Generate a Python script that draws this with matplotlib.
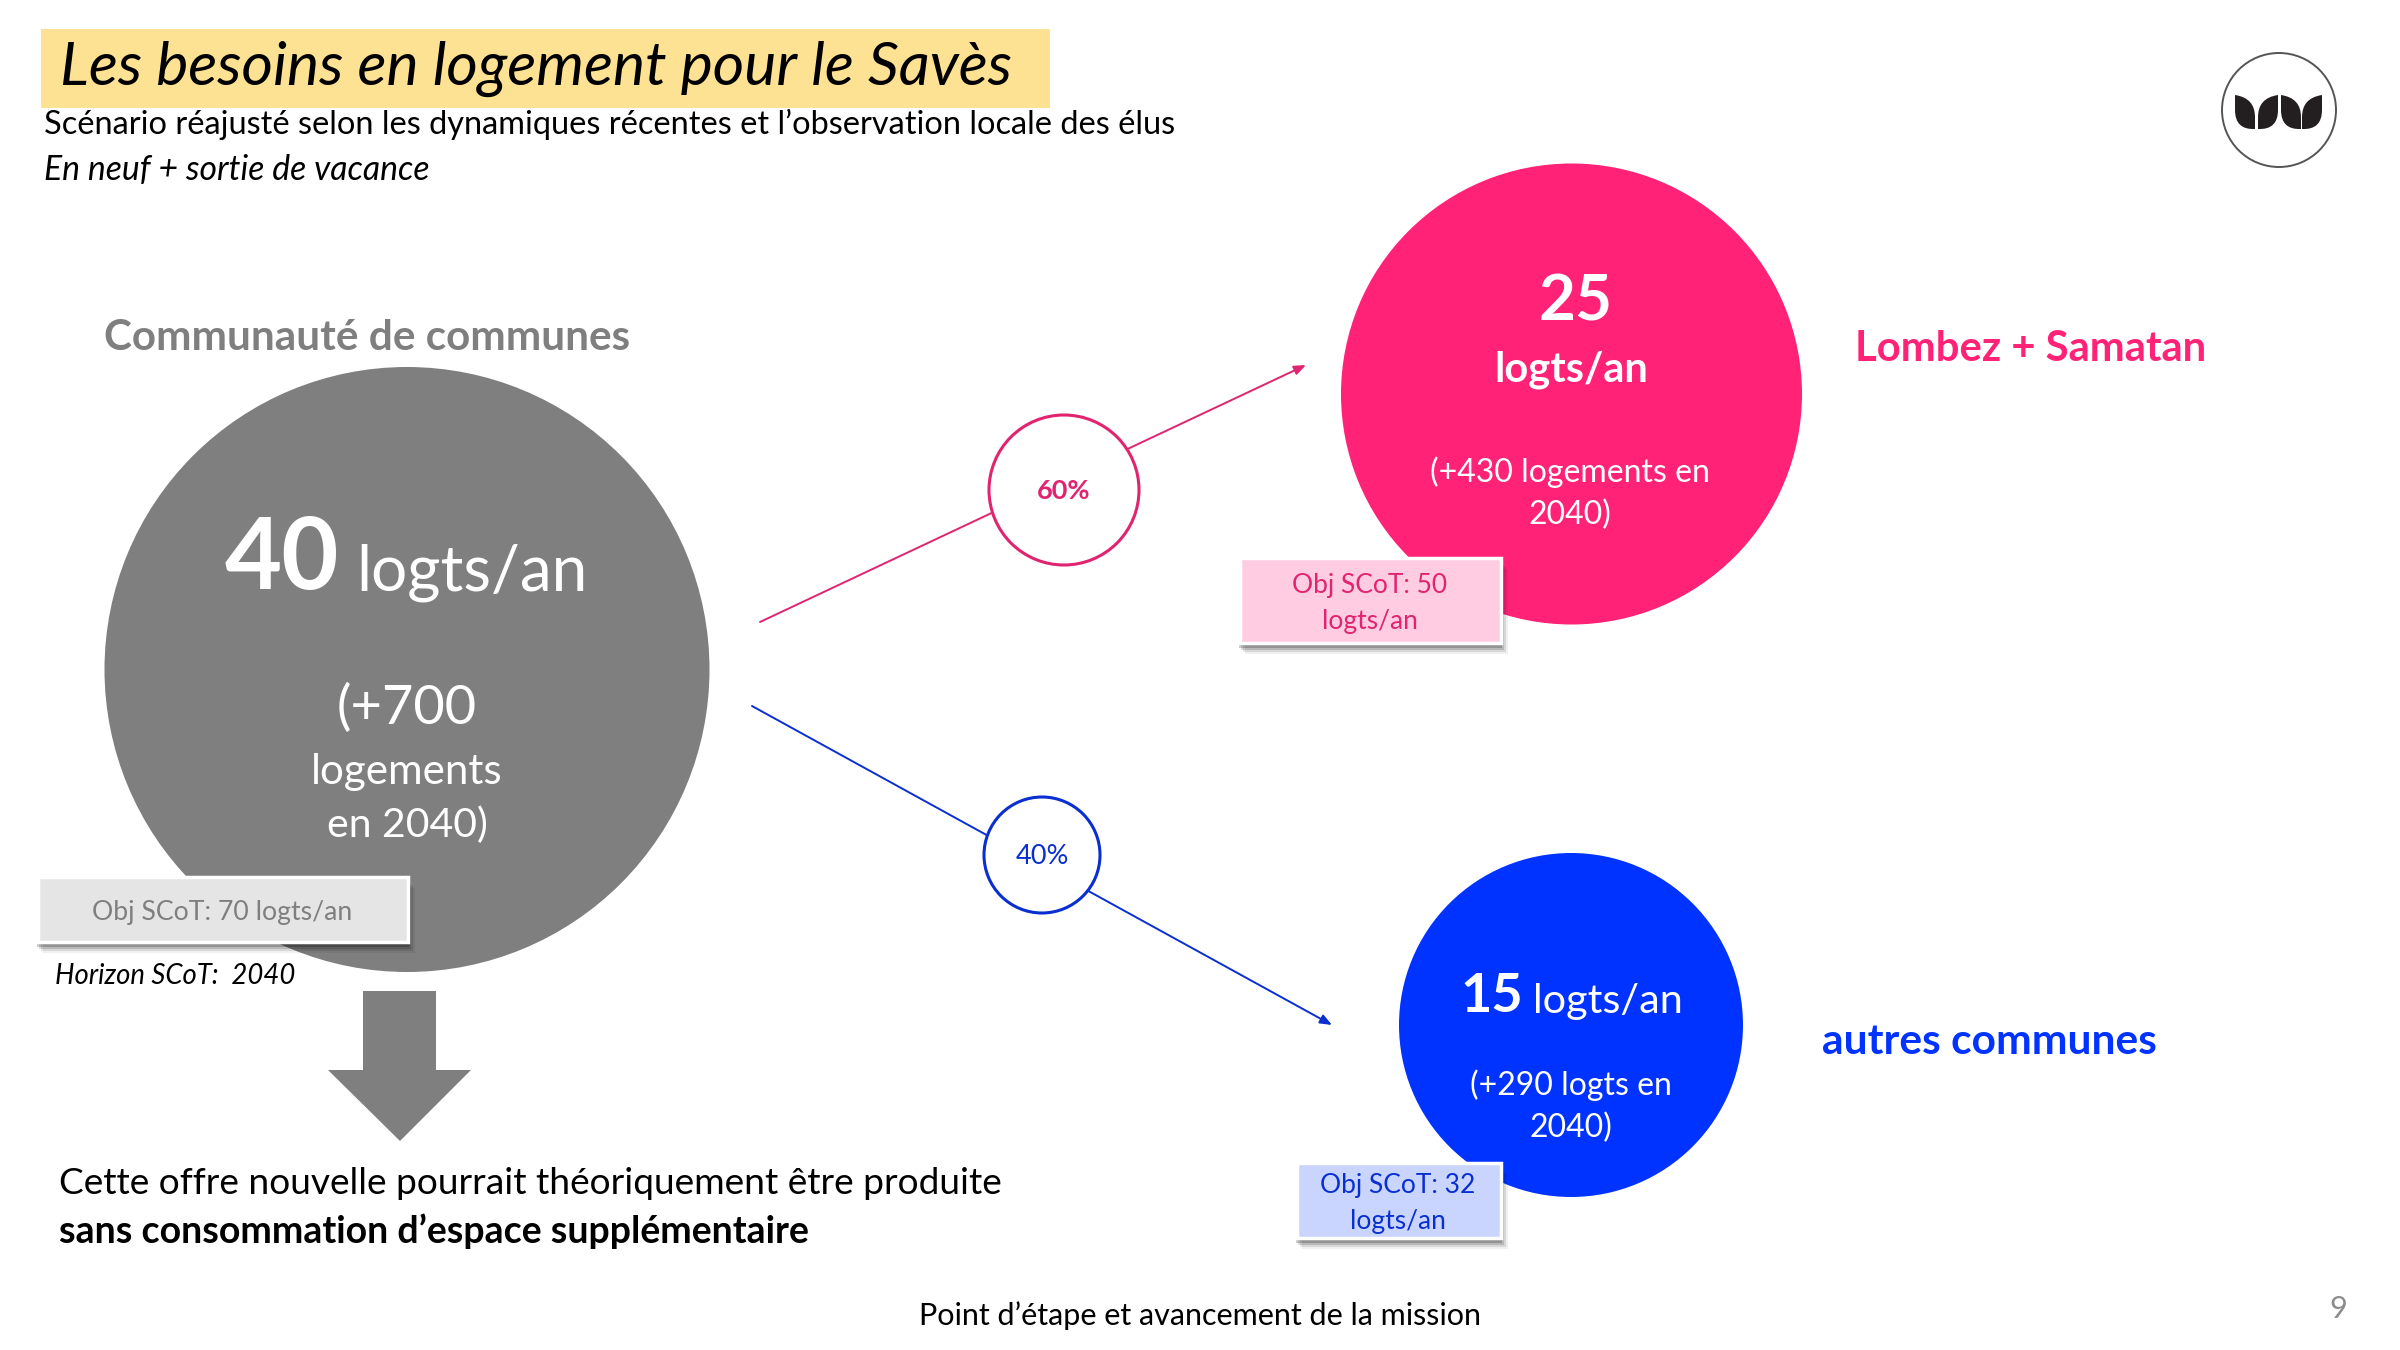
import matplotlib
matplotlib.use('Agg')
import matplotlib.pyplot as plt
from matplotlib.patches import Circle, Rectangle, Polygon, PathPatch
from matplotlib.path import Path

plt.rcParams['font.family'] = ['Lato', 'DejaVu Sans']

GREY  = '#7f7f7f'
PINK  = '#ff2277'
BLUE  = '#0033ff'

# values shown on the slide
zones       = ['Communauté de communes', 'Lombez + Samatan', 'autres communes']
logts_an    = [40, 25, 15]
logements   = [700, 430, 290]
obj_scot    = [70, 50, 32]
parts       = [60, 40]
horizon     = 2040

title    = 'Les besoins en logement pour le Savès'
subtitle = 'Scénario réajusté selon les dynamiques récentes et l’observation locale des élus'
subnote  = 'En neuf + sortie de vacance'
bottom_1 = 'Cette offre nouvelle pourrait théoriquement être produite'
bottom_2 = 'sans consommation d’espace supplémentaire'
footer   = 'Point d’étape et avancement de la mission'
page_num = '9'


def obj_box(ax, x0, y0, x1, y1, face, color, label, fs):
    # soft drop shadow, built from stacked translucent rectangles
    for d, a in [(11, 0.06), (9, 0.10), (7, 0.14), (5, 0.20)]:
        ax.add_patch(Rectangle((x0 + d - 6, y0 + d), x1 - x0 + 2, y1 - y0,
                               fc='black', ec='none', alpha=a, zorder=4))
    ax.add_patch(Rectangle((x0, y0), x1 - x0, y1 - y0, fc=face, ec='white',
                           lw=2.5, zorder=5))
    ax.text((x0 + x1) / 2 - 1, (y0 + y1) / 2 + 3, label, color=color, fontsize=fs,
            ha='center', va='center', linespacing=1.6, zorder=6)


def flow(ax, start, end, center, r, color, label, weight):
    ax.annotate('', xy=end, xytext=start, zorder=2,
                arrowprops=dict(arrowstyle='-|>,head_length=0.7,head_width=0.28',
                                color=color, lw=1.4, shrinkA=0, shrinkB=0))
    ax.add_patch(Circle(center, r, fc='white', ec=color, lw=2.2, zorder=3))
    ax.text(center[0], center[1] + 1, label, color=color, fontsize=19.5,
            fontweight=weight, ha='center', va='center', zorder=4)


def leaf(x, flip=False):
    # one logo leaf, coordinates in logo pixels
    s = -1 if flip else 1
    verts = [(x, 95), (x + s * 20, 98), (x + s * 20, 117), (x + s * 20, 129),
             (x, 130), (x, 110), (x, 95)]
    codes = [Path.MOVETO, Path.CURVE3, Path.CURVE3, Path.LINETO,
             Path.CURVE3, Path.CURVE3, Path.CLOSEPOLY]
    return PathPatch(Path(verts, codes), fc='#231f20', ec='none', zorder=3)


fig = plt.figure(figsize=(24, 13.5), dpi=100, facecolor='white')
ax = fig.add_axes([0, 0, 1, 1])
ax.set_xlim(0, 2400)
ax.set_ylim(1350, 0)
ax.axis('off')

# ── Header ───────────────────────────────────────────────────────────────────
ax.add_patch(Rectangle((41, 29), 1009, 79, fc='#fde293', ec='none'))
ax.text(60, 69, title, fontsize=43.7, style='italic', color='black', va='center')
ax.text(44, 124, subtitle, fontsize=23.4, color='black', va='center')
ax.text(44, 170, subnote, fontsize=24.3, style='italic', color='black', va='center')

ax.add_patch(Circle((2279, 110), 57, fc='white', ec='#555555', lw=1.4))
for x, flip in [(2235, False), (2278, True), (2281, False), (2322, True)]:
    ax.add_patch(leaf(x, flip))

# ── Flows ────────────────────────────────────────────────────────────────────
flow(ax, (760, 622), (1306, 365), (1064, 490), 75, '#e0246f', f'{parts[0]}%', 'bold')
flow(ax, (752, 706), (1332, 1025), (1042, 855), 58, '#0a2fd0', f'{parts[1]}%', 'normal')

# ── Main circle ──────────────────────────────────────────────────────────────
ax.text(104, 338, zones[0], color=GREY, fontsize=30.4, fontweight='bold', va='center')
ax.add_patch(Circle((407, 669.5), 302.5, fc=GREY, ec='none', zorder=2))
ax.text(225, 560, str(logts_an[0]), color='white', fontsize=71, fontweight='bold',
        va='center', zorder=3)
ax.text(356, 573, 'logts/an', color='white', fontsize=46, va='center', zorder=3)
ax.text(407, 708, f'(+{logements[0]}', color='white', fontsize=39, ha='center',
        va='center', zorder=3)
ax.text(407, 772, 'logements', color='white', fontsize=30.3, ha='center', va='center', zorder=3)
ax.text(407, 825, f'en {horizon})', color='white', fontsize=29.5, ha='center',
        va='center', zorder=3)
obj_box(ax, 38, 877, 408, 942, '#e5e5e5', GREY, f'Obj SCoT: {obj_scot[0]} logts/an', 19.2)
ax.text(55, 976, f'Horizon SCoT:  {horizon}', fontsize=19.8, style='italic',
        color='black', va='center')

# ── Pink circle ──────────────────────────────────────────────────────────────
ax.add_patch(Circle((1571.5, 394), 230.5, fc=PINK, ec='none', zorder=2))
ax.text(1576, 302, str(logts_an[1]), color='white', fontsize=46, fontweight='bold',
        ha='center', va='center', zorder=3)
ax.text(1571, 370, 'logts/an', color='white', fontsize=30, fontweight='bold',
        ha='center', va='center', zorder=3)
ax.text(1570, 493, f'(+{logements[1]} logements en\n{horizon})', color='white', fontsize=23,
        ha='center', va='center', linespacing=1.47, zorder=3)
ax.text(1855, 349, zones[1], color=PINK, fontsize=30.2, fontweight='bold', va='center')
obj_box(ax, 1240, 558, 1501, 643, '#ffcce2', '#e0246f',
        f'Obj SCoT: {obj_scot[1]}\nlogts/an', 19)

# ── Blue circle ──────────────────────────────────────────────────────────────
ax.add_patch(Circle((1571, 1025), 172, fc=BLUE, ec='none', zorder=2))
ax.text(1460, 997, str(logts_an[2]), color='white', fontsize=39, fontweight='bold',
        va='center', zorder=3)
ax.text(1533, 1001, 'logts/an', color='white', fontsize=29.8, va='center', zorder=3)
ax.text(1571, 1106, f'(+{logements[2]} logts en\n{horizon})', color='white', fontsize=23,
        ha='center', va='center', linespacing=1.47, zorder=3)
ax.text(1822, 1042, zones[2], color=BLUE, fontsize=30.6, fontweight='bold', va='center')
obj_box(ax, 1297, 1163, 1501, 1238, '#c9d5ff', '#0a2fd0',
        f'Obj SCoT: {obj_scot[2]}\nlogts/an', 19)

# ── Bottom ───────────────────────────────────────────────────────────────────
ax.add_patch(Polygon([(363, 991), (436, 991), (436, 1070), (471, 1070), (400, 1141),
                      (328, 1070), (363, 1070)], closed=True, fc=GREY, ec='none'))
ax.text(59, 1183, bottom_1, fontsize=26.7, color='black', va='center')
ax.text(59, 1231, bottom_2, fontsize=27, fontweight='bold', color='black', va='center')
ax.text(1200, 1316, footer, fontsize=22, color='black', ha='center', va='center')
ax.text(2338, 1309, page_num, fontsize=22, color='#8c8c8c', ha='center', va='center')

fig.savefig('out.png', dpi=100)
plt.close(fig)
